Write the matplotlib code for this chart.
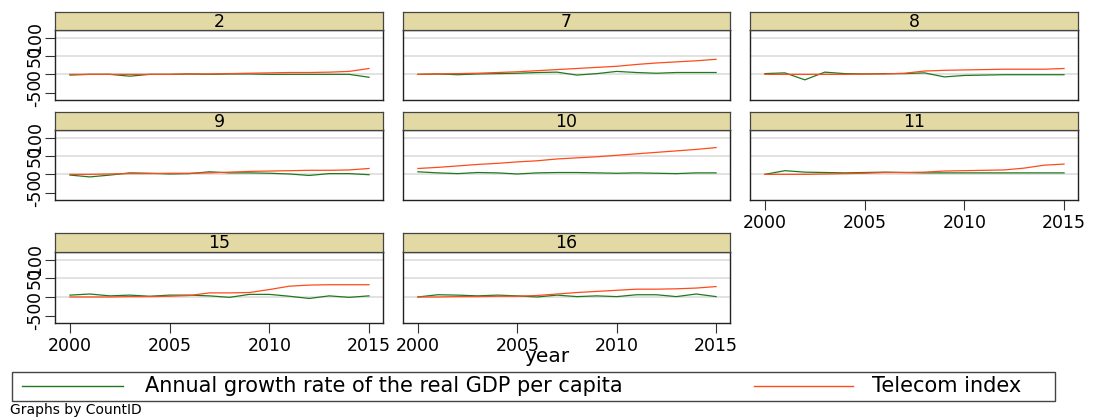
import matplotlib
matplotlib.use("Agg")
import matplotlib.pyplot as plt
from matplotlib.lines import Line2D
from matplotlib.patches import Rectangle
import numpy as np

# yearly series per country id
years = np.arange(2000, 2016)
countries = [2, 7, 8, 9, 10, 11, 15, 16]

gdp_growth = {
    2:  [-2, 0, 0, -5, 0, 0, 1, 0, 1, 1, 0, 0, 0, 0, 0, -8],
    7:  [0, 1, -1, 1, 2, 3, 5, 6, -2, 2, 8, 5, 3, 5, 5, 5],
    8:  [2, 4, -15, 6, 2, 1, 2, 2, 4, -7, -3, -2, -1, -1, -1, -1],
    9:  [-2, -7, -2, 4, 3, 1, 2, 7, 4, 4, 3, 1, -3, 2, 2, -1],
    10: [7, 4, 2, 5, 4, 1, 4, 5, 5, 4, 3, 4, 3, 2, 4, 4],
    11: [0, 10, 6, 5, 4, 5, 6, 5, 4, 4, 4, 4, 4, 4, 4, 4],
    15: [5, 8, 3, 5, 2, 5, 5, 3, -1, 7, 7, 2, -4, 3, -1, 3],
    16: [0, 6, 5, 3, 5, 3, 0, 5, 1, 3, 1, 6, 6, 1, 8, 1],
}
telecom = {
    2:  [0, 0, 0, 0, 0, 0, 1, 1, 2, 3, 4, 5, 5, 6, 8, 16],
    7:  [0, 1, 2, 3, 5, 7, 10, 13, 16, 19, 22, 27, 31, 34, 37, 41],
    8:  [0, 0, 0, 0, 0, 1, 1, 3, 9, 11, 12, 13, 14, 14, 14, 16],
    9:  [0, 0, 1, 2, 2, 3, 3, 4, 6, 8, 9, 10, 11, 11, 12, 16],
    10: [16, 19, 23, 27, 30, 34, 37, 42, 45, 48, 52, 56, 60, 64, 68, 73],
    11: [0, 0, 0, 1, 2, 3, 5, 5, 6, 9, 10, 11, 12, 17, 25, 28],
    15: [0, 0, 0, 1, 1, 2, 4, 11, 11, 12, 20, 29, 32, 33, 33, 33],
    16: [0, 0, 1, 1, 2, 2, 4, 8, 12, 15, 18, 21, 21, 22, 24, 28],
}
yticks = [-50, 0, 50, 100]
xticks = [2000, 2005, 2010, 2015]
series_labels = ["Annual growth rate of the real GDP per capita", "Telecom index"]

GREEN = "#1f7a1f"
RED = "#ff4a1a"
STRIP = "#e3d9a4"

W, H = 1096, 420
fig = plt.figure(figsize=(W / 100, H / 100), dpi=100)
fig.patch.set_facecolor("white")

col_x = [(55, 383), (403, 730), (750, 1078)]
rows = [(12, 30, 100), (112, 130, 200), (233, 252, 323)]


def box(x0, x1, y0, y1):
    return [x0 / W, 1 - y1 / H, (x1 - x0) / W, (y1 - y0) / H]


for i, cid in enumerate(countries):
    r, c = divmod(i, 3)
    x0, x1 = col_x[c]
    s_top, p_top, p_bot = rows[r]

    ax = fig.add_axes(box(x0, x1, p_top, p_bot))
    ax.plot(years, gdp_growth[cid], color=GREEN, lw=0.9, zorder=3)
    ax.plot(years, telecom[cid], color=RED, lw=0.9, zorder=3)
    ax.set_xlim(1999.25, 2015.7)
    ax.set_ylim(-70, 121)
    for g in [0, 50, 100]:
        ax.axhline(g, color="#e2e2e2", lw=1.4, zorder=1)
    for sp in ax.spines.values():
        sp.set_color("#222222")
        sp.set_linewidth(1.0)

    ax.set_yticks(yticks)
    if c == 0:
        ax.set_yticklabels([str(v) for v in yticks], rotation=90, va="center",
                           fontsize=12.5)
        ax.tick_params(axis="y", length=7, width=0.8, color="#333333", pad=1)
    else:
        ax.tick_params(axis="y", left=False, labelleft=False)

    ax.set_xticks(xticks)
    if r == 2 or cid == 11:
        ax.set_xticklabels([str(v) for v in xticks], fontsize=12.5)
        ax.tick_params(axis="x", length=7, width=0.8, color="#333333", pad=3)
    else:
        ax.tick_params(axis="x", bottom=False, labelbottom=False)

    # facet header
    sax = fig.add_axes(box(x0, x1, s_top, p_top))
    sax.set_facecolor(STRIP)
    sax.set_xticks([])
    sax.set_yticks([])
    for sp in sax.spines.values():
        sp.set_color("#444444")
        sp.set_linewidth(0.9)
    sax.text(0.5, 0.45, str(cid), ha="center", va="center", fontsize=12.5,
             transform=sax.transAxes)

fig.text(547 / W, 1 - 356 / H, "year", ha="center", va="center", fontsize=14.5)

# legend box across the bottom
fig.patches.append(Rectangle((12 / W, 1 - 401 / H), 1043 / W, 29 / H,
                             transform=fig.transFigure, facecolor="white",
                             edgecolor="#444444", lw=1.0))
ly = 1 - 386 / H
for (lx0, lx1, tx), color, label in zip([(22, 123, 145), (754, 853, 872)],
                                        [GREEN, RED], series_labels):
    fig.add_artist(Line2D([lx0 / W, lx1 / W], [ly, ly], color=color, lw=1.0,
                          transform=fig.transFigure))
    fig.text(tx / W, ly, label, ha="left", va="center", fontsize=15)

fig.text(10 / W, 1 - 410 / H, "Graphs by CountID", ha="left", va="center",
         fontsize=10)

fig.savefig("out.png", dpi=100)
